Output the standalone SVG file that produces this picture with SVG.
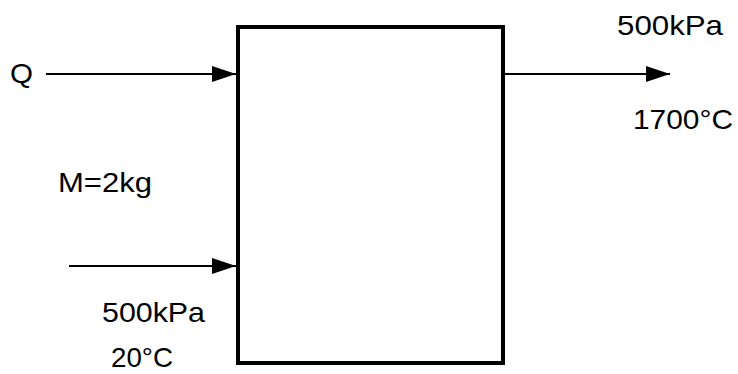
<svg xmlns="http://www.w3.org/2000/svg" width="738" height="374" viewBox="0 0 738 374">
<style>
.t{font-family:"Liberation Sans",Arial,sans-serif;font-size:28px;fill:#000}
.c{stroke:#000;stroke-width:2;fill:none}
</style>
<defs>
<marker id="ah" viewBox="0 0 24 16" refX="24" refY="8" markerWidth="24" markerHeight="16" markerUnits="userSpaceOnUse" orient="auto">
<path d="M0,0 L24,8 L0,16 Z" fill="#000"/>
</marker>
</defs>
<rect width="738" height="374" fill="#fff"/>
<g id="box"><rect x="238" y="27" width="265" height="336" fill="none" stroke="#000" stroke-width="4"/></g>
<g id="connectors">
<line class="c" x1="46" y1="74" x2="236" y2="74" marker-end="url(#ah)"/>
<line class="c" x1="69" y1="266" x2="236" y2="266" marker-end="url(#ah)"/>
<line class="c" x1="505" y1="74" x2="670" y2="74" marker-end="url(#ah)"/>
</g>
<g id="labels">
<text class="t" x="10" y="83" textLength="23" lengthAdjust="spacingAndGlyphs">Q</text>
<text class="t" x="58" y="192" textLength="94" lengthAdjust="spacingAndGlyphs">M=2kg</text>
<text class="t" x="617" y="35" textLength="106" lengthAdjust="spacingAndGlyphs">500kPa</text>
<text class="t" x="633" y="129" textLength="100" lengthAdjust="spacingAndGlyphs">1700°C</text>
<text class="t" x="102" y="322" textLength="103" lengthAdjust="spacingAndGlyphs">500kPa</text>
<text class="t" x="111" y="367" textLength="62" lengthAdjust="spacingAndGlyphs">20°C</text>
</g>
</svg>
